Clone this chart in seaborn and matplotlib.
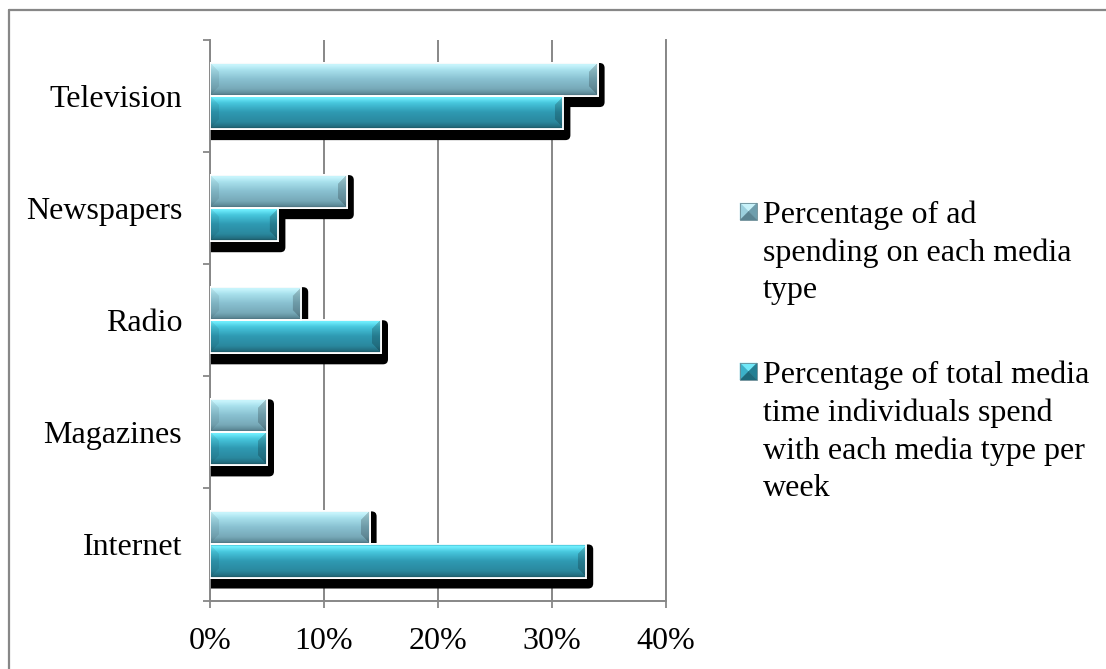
import numpy as np
import pandas as pd
import matplotlib
matplotlib.use("Agg")
import matplotlib.pyplot as plt
import seaborn as sns
from matplotlib.patches import FancyBboxPatch, Rectangle, Polygon
from matplotlib.lines import Line2D
from matplotlib.colors import to_rgb
from matplotlib.transforms import IdentityTransform

# ---- data -------------------------------------------------------------
media = ["Television", "Newspapers", "Radio", "Magazines", "Internet"]
ad_spending = [34, 12, 8, 5, 14]
media_time = [31, 6, 15, 5, 33]
series_names = [
    "Percentage of ad spending on each media type",
    "Percentage of total media time individuals spend with each media type per week",
]
legend_labels = [
    "Percentage of ad\nspending on each media\ntype",
    "Percentage of total media\ntime individuals spend\nwith each media type per\nweek",
]
x_ticks = [0, 10, 20, 30, 40]
x_tick_labels = ["0%", "10%", "20%", "30%", "40%"]

df = pd.DataFrame({
    "media": media * 2,
    "share": ad_spending + media_time,
    "series": [series_names[0]] * len(media) + [series_names[1]] * len(media),
})

# ---- style ------------------------------------------------------------
sns.set_theme(style="white")
plt.rcParams["font.family"] = ["Liberation Serif", "DejaVu Serif"]
FS = 23
GRAY = "#878787"

# vertical shading stops for the bevelled bars
shades = {
    series_names[0]: [(0.0, "#78aebf"), (0.06, "#cbf7fe"), (0.22, "#a9e1ed"),
                      (0.5, "#89c1d1"), (0.8, "#77a9b8"), (0.93, "#5f8c9a"), (1.0, "#4a6e79")],
    series_names[1]: [(0.0, "#3ab5ca"), (0.06, "#72f0ff"), (0.22, "#47c7dd"),
                      (0.5, "#2f9ab3"), (0.8, "#2a889e"), (0.93, "#236f81"), (1.0, "#1b5460")],
}
pyramid = {
    series_names[0]: ("#c8f2fa", "#9bd0de", "#6e9ead", "#5a8492"),
    series_names[1]: ("#70e8f8", "#3bb1c9", "#237f93", "#1d6a7b"),
}
palette = {k: v[3][1] for k, v in shades.items()}

W, H = 1106, 669
fig = plt.figure(figsize=(W / 100, H / 100), dpi=100)
fig.patch.set_facecolor("white")
ax = fig.add_axes([210 / W, (H - 600.5) / H, (666 - 210) / W, (600.5 - 40) / H])

sns.barplot(data=df, y="media", x="share", hue="series", order=media,
            hue_order=series_names, palette=palette, orient="h", width=0.59,
            gap=0, saturation=1, errorbar=None, edgecolor="white",
            linewidth=1.3, legend=False, ax=ax, zorder=3)

ax.set_xlim(0, 40)
ax.set_ylim(len(media) - 0.5, -0.5)
ax.set_xlabel("")
ax.set_ylabel("")

# axes, ticks and grid
ax.set_xticks(x_ticks, labels=x_tick_labels)
ax.set_yticks(np.arange(len(media) + 1) - 0.5, labels=[])
ax.set_yticks(np.arange(len(media)), labels=media, minor=True)
ax.tick_params(axis="y", which="major", length=5, width=1.3, color=GRAY, left=True)
ax.tick_params(axis="y", which="minor", length=0, pad=20, labelsize=FS, labelcolor="black")
ax.tick_params(axis="x", length=5, width=1.3, color=GRAY, bottom=True, pad=14,
               labelsize=FS, labelcolor="black")
ax.xaxis.grid(True, color=GRAY, linewidth=1.4)
ax.yaxis.grid(False)
ax.set_axisbelow(True)
for side in ("left", "bottom", "right"):
    ax.spines[side].set_visible(True)
    ax.spines[side].set_color(GRAY)
    ax.spines[side].set_linewidth(1.4)
ax.spines["top"].set_visible(False)


def bar_image(nx, ny, stops, bevel):
    v = np.linspace(0, 1, ny)
    pos = [s[0] for s in stops]
    cols = np.array([to_rgb(s[1]) for s in stops])
    col = np.stack([np.interp(v, pos, cols[:, k]) for k in range(3)], axis=1)
    img = np.repeat(col[:, None, :], nx, axis=1)
    i = np.arange(ny)[:, None]
    j = np.arange(nx)[None, :]
    edge_v = np.minimum(i, ny - 1 - i)
    left = (j < bevel) & (j < edge_v)
    right = ((nx - 1 - j) < bevel) & ((nx - 1 - j) < edge_v)
    img[left] *= 0.93
    img[right] *= 0.8
    return np.clip(img, 0, 1)


# shading and drop shadows derived from each drawn bar
bars = list(ax.patches)
n = len(media)
for k, bar in enumerate(bars):
    series = series_names[k // n]
    x0, y0 = bar.get_x(), bar.get_y()
    w, h = bar.get_width(), bar.get_height()
    (px0, py_top), (px1, py_bot) = ax.transData.transform([(x0, y0), (x0 + w, y0 + h)])
    # py_top is visually the upper edge (larger display y because the axis is inverted)
    shadow = FancyBboxPatch((px0 - 8, py_bot - 11), (px1 - px0) + 15, (py_top - py_bot) + 11,
                            boxstyle="round,pad=0,rounding_size=5",
                            transform=IdentityTransform(), facecolor="black",
                            edgecolor="none", zorder=2)
    ax.add_artist(shadow)
    shadow.set_clip_path(ax.patch)
    nx = max(int(round(px1 - px0)), 2)
    ny = max(int(round(py_top - py_bot)), 2)
    img = bar_image(nx, ny, shades[series], bevel=9)
    im = ax.imshow(img, extent=(x0, x0 + w, y0 + h, y0), origin="upper",
                   aspect="auto", interpolation="bilinear", zorder=3.5)
    im.set_clip_path(bar)
    ax.add_patch(Rectangle((x0, y0), w, h, fill=False, edgecolor="white",
                           linewidth=1.3, zorder=4))

ax.set_xlim(0, 40)
ax.set_ylim(len(media) - 0.5, -0.5)

# legend: pyramid-shaded swatches with wrapped labels
legend_baselines = [222, 382]
line_step = 38
for series, label, base in zip(series_names, legend_labels, legend_baselines):
    top_c, left_c, right_c, bot_c = pyramid[series]
    sx0, sx1 = 740, 757
    sy1 = H - (base - 19)
    sy0 = sy1 - 17
    cx, cy = (sx0 + sx1) / 2, (sy0 + sy1) / 2
    tris = [
        ([(sx0, sy1), (sx1, sy1), (cx, cy)], top_c),
        ([(sx0, sy0), (sx0, sy1), (cx, cy)], left_c),
        ([(sx1, sy0), (sx1, sy1), (cx, cy)], right_c),
        ([(sx0, sy0), (sx1, sy0), (cx, cy)], bot_c),
    ]
    for pts, c in tris:
        fig.add_artist(Polygon(pts, closed=True, facecolor=c, edgecolor=c,
                               linewidth=0.3, transform=IdentityTransform()))
    fig.add_artist(Rectangle((sx0, sy0), sx1 - sx0, sy1 - sy0, fill=False,
                             edgecolor="#6a8c96", linewidth=0.6,
                             transform=IdentityTransform()))
    last_base = base + (label.count("\n")) * line_step
    fig.text(763 / W, 1 - last_base / H, label, fontsize=FS, va="baseline", ha="left",
             linespacing=1.38, color="black")

# outer frame (top and left edges)
fig.add_artist(Line2D([9 / W, 1], [1 - 10 / H, 1 - 10 / H], color=GRAY, linewidth=1.6))
fig.add_artist(Line2D([9 / W, 9 / W], [0, 1 - 10 / H], color=GRAY, linewidth=1.6))

fig.savefig("out.png", dpi=100, facecolor="white")
